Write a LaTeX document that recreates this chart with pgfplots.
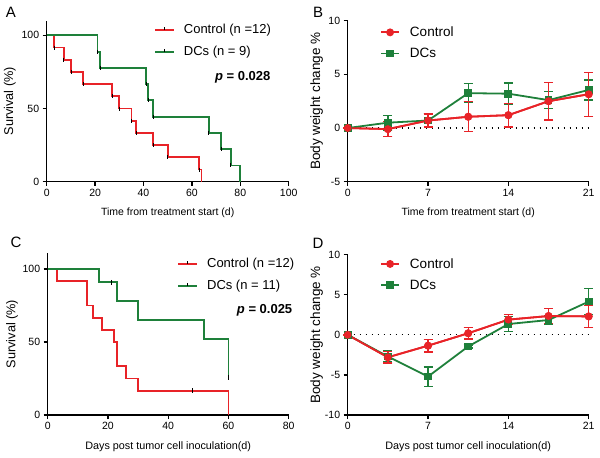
\documentclass[border=0pt]{standalone}
\usepackage{pgfplots}
\pgfplotsset{compat=1.18}
\usepackage{fontspec}
\setmainfont{Liberation Sans}
\definecolor{cred}{RGB}{232,35,40}
\definecolor{cgreen}{RGB}{30,128,58}
\pgfplotsset{
  base/.style={
    scale only axis,
    axis x line*=bottom, axis y line*=left,
    axis line style={-, line width=1.3pt},
    tick align=outside, major tick length=4pt,
    every tick/.style={black, line width=1.2pt},
    tick label style={font=\fontsize{10.5}{12}\selectfont},
    /pgf/number format/assume math mode=true,
    clip=false,
    legend cell align=left,
  },
  kmleg/.style={
    legend image code/.code={\draw[##1, line width=1.8pt] (0pt,0pt) -- (19pt,0pt); \draw[black, line width=0.8pt] (9.5pt,0pt) -- (9.5pt,3pt);},
    legend style={draw=none, fill=none, inner sep=0pt, row sep=9pt, column sep=8pt,
      nodes={inner sep=1pt, anchor=west}, font=\fontsize{13}{13}\selectfont},
  },
  bwleg/.style={
    legend image code/.code={\draw[##1, line width=1.8pt, mark repeat=2, mark phase=2] plot coordinates {(0pt,0pt) (9pt,0pt) (18pt,0pt)};},
    legend style={draw=none, fill=none, inner sep=0pt, row sep=8pt, column sep=9pt,
      nodes={inner sep=1pt, anchor=west}, font=\fontsize{13.5}{13.5}\selectfont},
  },
  eb/.style={error bars/.cd, y dir=both, y explicit,
    error bar style={line width=1.3pt},
    error mark options={rotate=90, mark size=4.5pt, line width=1.3pt}},
}
\begin{document}
\begin{tikzpicture}
\path (0,0) rectangle (600pt,-458pt);
\node[font=\fontsize{15}{15}\selectfont] at (11pt,-12pt) {A};
\node[font=\fontsize{15}{15}\selectfont] at (318pt,-12pt) {B};
\node[font=\fontsize{15}{15}\selectfont] at (16pt,-242pt) {C};
\node[font=\fontsize{15}{15}\selectfont] at (318pt,-243pt) {D};

% ---------- A ----------
\begin{axis}[base, kmleg,
  at={(46.7pt,-181.7pt)}, anchor=south west, width=242pt, height=161pt,
  xmin=0, xmax=100, ymin=0, ymax=110,
  xtick={0,20,40,60,80,100}, ytick={0,50,100},
  xlabel={Time from treatment start (d)},
  ylabel={Survival (\%)},
  xlabel style={at={(axis description cs:0.5,-0.193)}, anchor=center, font=\fontsize{10.5}{12}\selectfont},
  ylabel style={at={(axis description cs:-0.152,0.5)}, anchor=center, font=\fontsize{12.7}{14}\selectfont},
  legend style={at={(0.443,0.985)}, anchor=north west},
]
\addplot[cred, line width=1.8pt, const plot] coordinates {(0,100) (3,91.67) (7,83.33) (10,75) (15,66.67) (27,58.33) (30,50) (35,41.67) (37,33.33) (44,25) (50,16.67) (63,8.33) (64,0)};
\addlegendentry{Control (n =12)}
\addplot[cgreen, line width=1.8pt, const plot] coordinates {(0,100) (21,88.89) (22,77.78) (41,66.67) (42,55.56) (44,44.44) (67,33.33) (72,22.22) (76,11.11) (80,0)};
\addlegendentry{DCs (n = 9)}
\addplot[only marks, mark=|, mark size=2pt, mark options={black, line width=0.7pt}, forget plot] coordinates {(3,91.67) (7,83.33) (10,75) (15,66.67) (27,58.33) (30,50) (35,41.67) (37,33.33) (44,25) (50,16.67) (63,8.33) (21,88.89) (22,77.78) (41,66.67) (42,55.56) (44,44.44) (67,33.33) (72,22.22) (76,11.11)};
\node[font=\fontsize{13}{13}\selectfont\bfseries] at (axis cs:81,71.5) {\textit{p} = 0.028};
\end{axis}

% ---------- B ----------
\begin{axis}[base, bwleg,
  at={(347.7pt,-181.7pt)}, anchor=south west, width=241pt, height=161pt,
  xmin=0, xmax=21, ymin=-5, ymax=10,
  xtick={0,7,14,21}, ytick={-5,0,5,10},
  xlabel={Time from treatment start (d)},
  ylabel={Body weight change \%},
  xlabel style={at={(axis description cs:0.5,-0.193)}, anchor=center, font=\fontsize{10.5}{12}\selectfont},
  ylabel style={at={(axis description cs:-0.129,0.5)}, anchor=center, font=\fontsize{13.5}{14}\selectfont},
  legend style={at={(0.134,0.97)}, anchor=north west},
]
\addplot[black, line width=1.2pt, dash pattern=on 1.5pt off 4.5pt, forget plot] coordinates {(0,0) (21,0)};
\addplot[cred, line width=1.8pt, mark=*, mark size=3pt, eb] table[x=x, y=y, y error=e] {
x y e
0 0 0
3.5 -0.1 0.7
7 0.7 0.6
10.5 1.05 1.4
14 1.2 1.1
17.5 2.5 1.75
21 3.15 2.05
};
\addlegendentry{Control}
\addplot[cgreen, line width=1.8pt, mark=square*, mark size=3pt, eb] table[x=x, y=y, y error=e] {
x y e
0 0 0
3.5 0.5 0.7
7 0.7 0.6
10.5 3.25 0.87
14 3.2 1.0
17.5 2.6 0.8
21 3.55 0.93
};
\addlegendentry{DCs}
\addplot[forget plot, cred, line width=1.8pt, mark=*, mark size=3pt, eb] table[x=x, y=y, y error=e] {
x y e
0 0 0
3.5 -0.1 0.7
7 0.7 0.6
10.5 1.05 1.4
14 1.2 1.1
17.5 2.5 1.75
21 3.15 2.05
};
\end{axis}

% ---------- C ----------
\begin{axis}[base, kmleg,
  at={(47.7pt,-415pt)}, anchor=south west, width=241pt, height=162pt,
  xmin=0, xmax=80, ymin=0, ymax=111,
  xtick={0,20,40,60,80}, ytick={0,50,100},
  xlabel={Days post tumor cell inoculation(d)},
  ylabel={Survival (\%)},
  xlabel style={at={(axis description cs:0.5,-0.198)}, anchor=center, font=\fontsize{10.8}{12}\selectfont},
  ylabel style={at={(axis description cs:-0.148,0.5)}, anchor=center, font=\fontsize{12.7}{14}\selectfont},
  legend style={at={(0.537,0.975)}, anchor=north west},
]
\addplot[cred, line width=1.8pt, const plot] coordinates {(0,100) (3,91.67) (13,75) (15,66.67) (18,58.33) (22,50) (23,33.33) (26,25) (30,16.67) (60,0)};
\addlegendentry{Control (n =12)}
\addplot[cgreen, line width=1.8pt, const plot] coordinates {(0,100) (17,90.91) (23,77.92) (30,64.94) (52,51.95) (60,25.97)};
\addlegendentry{DCs (n = 11)}
\addplot[only marks, mark=|, mark size=2.5pt, mark options={black, line width=0.8pt}, forget plot] coordinates {(21,90.91) (48,16.67) (60,25.97)};
\node[font=\fontsize{13}{13}\selectfont\bfseries] at (axis cs:72,72) {\textit{p} = 0.025};
\end{axis}

% ---------- D ----------
\begin{axis}[base, bwleg,
  at={(347.7pt,-415pt)}, anchor=south west, width=241pt, height=160.3pt,
  xmin=0, xmax=21, ymin=-10, ymax=10,
  xtick={0,7,14,21}, ytick={-10,-5,0,5,10},
  xlabel={Days post tumor cell inoculation(d)},
  ylabel={Body weight change \%},
  xlabel style={at={(axis description cs:0.5,-0.2)}, anchor=center, font=\fontsize{10.8}{12}\selectfont},
  ylabel style={at={(axis description cs:-0.129,0.5)}, anchor=center, font=\fontsize{13.5}{14}\selectfont},
  legend style={at={(0.134,0.985)}, anchor=north west},
]
\addplot[black, line width=1.2pt, dash pattern=on 1.5pt off 4.5pt, forget plot] coordinates {(0,0) (21,0)};
\addplot[cred, line width=1.8pt, mark=*, mark size=3pt, eb] table[x=x, y=y, y error=e] {
x y e
0 0 0
3.5 -2.8 0.7
7 -1.35 0.8
10.5 0.2 0.7
14 1.9 0.6
17.5 2.35 0.9
21 2.3 1.4
};
\addlegendentry{Control}
\addplot[cgreen, line width=1.8pt, mark=square*, mark size=3pt, eb] table[x=x, y=y, y error=e] {
x y e
0 0 0
3.5 -2.7 0.7
7 -5.2 1.2
10.5 -1.45 0.2
14 1.35 0.9
17.5 1.85 0.6
21 4.15 1.6
};
\addlegendentry{DCs}
\addplot[forget plot, cred, line width=1.8pt, mark=*, mark size=3pt, eb] table[x=x, y=y, y error=e] {
x y e
0 0 0
3.5 -2.8 0.7
7 -1.35 0.8
10.5 0.2 0.7
14 1.9 0.6
17.5 2.35 0.9
21 2.3 1.4
};
\end{axis}
\end{tikzpicture}
\end{document}
